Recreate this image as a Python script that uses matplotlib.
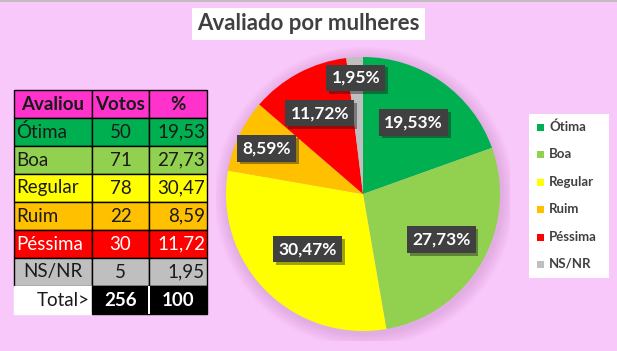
import matplotlib.pyplot as plt
from matplotlib.patches import Rectangle, Circle
import matplotlib.patheffects as pe
import numpy as np

categorias = ['Ótima', 'Boa', 'Regular', 'Ruim', 'Péssima', 'NS/NR']
votos = [50, 71, 78, 22, 30, 5]
percentuais = ['19,53', '27,73', '30,47', '8,59', '11,72', '1,95']
total_votos = 256
total_pct = 100
cores = ['#00B050', '#92D050', '#FFFF00', '#FFC000', '#FF0000', '#BFBFBF']
cores_texto = ['#1a1a1a', '#1a1a1a', '#1a1a1a', '#1a1a1a', 'white', '#1a1a1a']

plt.rcParams['font.family'] = ['Lato', 'DejaVu Sans']
fundo = '#F9C8FA'
W, H = 617, 351

fig = plt.figure(figsize=(W / 100, H / 100), dpi=100, facecolor=fundo)

def fx(x):
    return x / W

def fy(y):
    return 1 - y / H

# borda superior
fig.add_artist(Rectangle((0, fy(2)), 1, 2 / H, transform=fig.transFigure,
                         color='#BEBEBE', lw=0))

# titulo
fig.add_artist(Rectangle((fx(192), fy(40)), 233 / W, 32 / H, transform=fig.transFigure,
                         facecolor='white', lw=0))
fig.text(fx(308), fy(24), 'Avaliado por mulheres', ha='center', va='center',
         fontsize=16, fontweight='bold', color='#404040')

# tabela
cols = [14, 92, 149, 207]
top = 90
rh = 28
cabecalho = ['Avaliou', 'Votos', '%']

def celula(c, r, txt, fc, tc, ha='center', bold=False, borda=True):
    x0, x1 = cols[c], cols[c + 1]
    y0 = top + r * rh
    fig.add_artist(Rectangle((fx(x0), fy(y0 + rh)), (x1 - x0) / W, rh / H,
                             transform=fig.transFigure, facecolor=fc,
                             edgecolor='black' if borda else fc, lw=1))
    if ha == 'left':
        tx = x0 + 2
    elif ha == 'right':
        tx = x1 - 2
    else:
        tx = (x0 + x1) / 2
    fig.text(fx(tx), fy(y0 + rh / 2), txt, ha=ha, va='center', fontsize=13.5,
             color=tc, fontweight='bold' if bold else 'normal')

for c, t in enumerate(cabecalho):
    celula(c, 0, t, '#FF33CC', '#1a1a1a', bold=True)

for i, cat in enumerate(categorias):
    ha0 = 'center' if cat == 'NS/NR' else 'left'
    celula(0, i + 1, cat, cores[i], cores_texto[i], ha=ha0)
    celula(1, i + 1, str(votos[i]), cores[i], cores_texto[i])
    celula(2, i + 1, percentuais[i], cores[i], cores_texto[i], ha='right')

rt = len(categorias) + 1
celula(0, rt, 'Total>', 'white', '#1a1a1a', ha='right', borda=False)
celula(1, rt, str(total_votos), 'black', 'white', bold=True, borda=False)
celula(2, rt, str(total_pct), 'black', 'white', bold=True, borda=False)
# separador branco entre as celulas pretas
fig.add_artist(Rectangle((fx(148), fy(top + (rt + 1) * rh)), 2 / W, rh / H,
                         transform=fig.transFigure, facecolor='white', lw=0))

# pizza
cx, cy, r = 363, 194, 137
ax = fig.add_axes([fx(cx - r - 10), fy(cy + r + 10), (2 * r + 20) / W, (2 * r + 20) / H])
ax.axis('off')

# sombra suave
for k in range(8):
    ax.add_patch(Circle((0.01, -0.02), 1 + 0.012 * (8 - k), color='#B070B0',
                        alpha=0.04, lw=0, zorder=0))

wedges, _ = ax.pie(votos, colors=cores, startangle=90, counterclock=False,
                   radius=1, wedgeprops=dict(lw=0))
lim = 1 + 10 / r
ax.set_xlim(-lim, lim)
ax.set_ylim(-lim, lim)
ax.set_aspect('equal')

dist = [0.64, 0.66, 0.57, 0.78, 0.67, 0.85]
for w, p, d in zip(wedges, percentuais, dist):
    ang = np.deg2rad((w.theta1 + w.theta2) / 2)
    x, y = d * np.cos(ang), d * np.sin(ang)
    t = ax.text(x, y, p + '%', ha='center', va='center', fontsize=12.5,
                fontweight='bold', color='white', zorder=5,
                bbox=dict(boxstyle='square,pad=0.3', fc='#404040', ec='none'))
    t.get_bbox_patch().set_path_effects([pe.SimplePatchShadow(offset=(2, -2), alpha=0.4),
                                         pe.Normal()])

# legenda
fig.add_artist(Rectangle((fx(529), fy(278)), 80 / W, 164 / H, transform=fig.transFigure,
                         facecolor='white', lw=0))
for i, cat in enumerate(categorias):
    y = 127 + i * 27.4
    fig.add_artist(Rectangle((fx(537), fy(y + 4)), 7 / W, 7 / H, transform=fig.transFigure,
                             facecolor=cores[i], lw=0))
    fig.text(fx(549), fy(y), cat, ha='left', va='center', fontsize=9.5,
             fontweight='bold', color='#404040')

fig.savefig('out.png', dpi=100, facecolor=fundo)
